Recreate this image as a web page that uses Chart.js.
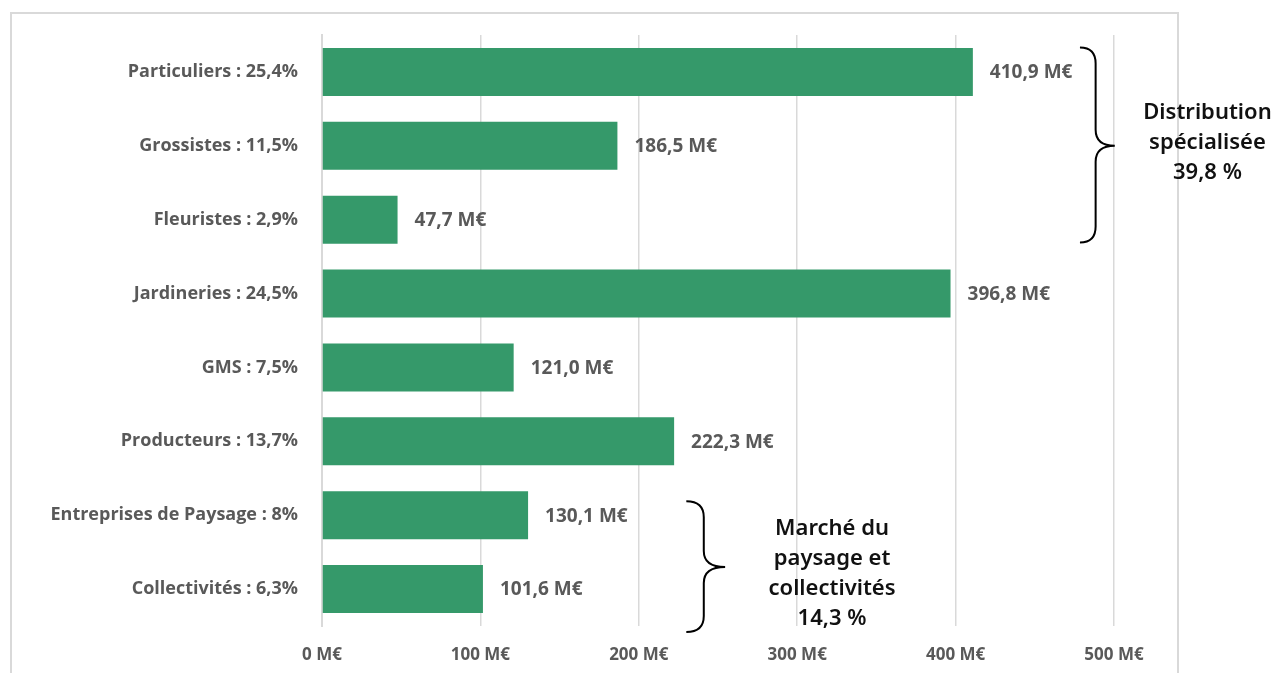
<!DOCTYPE html>
<html><head><meta charset="utf-8">
<script src="https://cdn.jsdelivr.net/npm/chart.js@4/dist/chart.umd.min.js"></script>
<style>html,body{margin:0;padding:0;background:#fff}#wrap{width:1282px;height:673px;position:relative}</style>
</head><body><div id="wrap"><canvas id="c" width="1282" height="673"></canvas></div>
<script>
const categories = ["Particuliers : 25,4%","Grossistes : 11,5%","Fleuristes : 2,9%","Jardineries : 24,5%","GMS : 7,5%","Producteurs : 13,7%","Entreprises de Paysage : 8%","Collectivités : 6,3%"];
const values = [410.9,186.5,47.7,396.8,121.0,222.3,130.1,101.6];
const valueLabels = ["410,9 M€","186,5 M€","47,7 M€","396,8 M€","121,0 M€","222,3 M€","130,1 M€","101,6 M€"];
const xTicks = [0,100,200,300,400,500];
const groupTexts = [["Distribution","spécialisée","39,8 %"],["Marché du","paysage et","collectivités","14,3 %"]];
// brace spans in category-index units, x in data units
const braceFrom = [-0.33, 5.81];
const braceTo = [2.31, 7.58];
const braceTip = [1.0, 6.7];
const braceX = [478.5, 230];
const braceTipX = [500.5, 254.5];
const textX = [559, 322];
const textY = [0.965, 6.79];

const gray = '#595959';
const frame = {
  id:'frame',
  beforeDraw(chart){
    const ctx = chart.ctx;
    ctx.save();
    ctx.fillStyle='#fff';ctx.fillRect(0,0,chart.width,chart.height);
    ctx.strokeStyle='#d9d9d9';ctx.lineWidth=2;
    ctx.strokeRect(11,13,1167,700);
    ctx.restore();
  },
  afterDatasetsDraw(chart){
    const ctx = chart.ctx, xs = chart.scales.x, ys = chart.scales.y;
    ctx.save();
    ctx.font = 'bold 19px "Open Sans"';
    ctx.fillStyle = gray; ctx.textBaseline='middle'; ctx.textAlign='left';
    values.forEach((v,i)=>{
      ctx.fillText(valueLabels[i], xs.getPixelForValue(v)+17, ys.getPixelForValue(i)+1);
    });
    const step = ys.getPixelForValue(1)-ys.getPixelForValue(0);
    const yAt = f => ys.getPixelForValue(0) + f*step;
    ctx.strokeStyle='#000'; ctx.lineWidth=2;
    for(let k=0;k<2;k++){
      const x0 = xs.getPixelForValue(braceX[k]), xt = xs.getPixelForValue(braceTipX[k]);
      const y0 = yAt(braceFrom[k]), y1 = yAt(braceTo[k]), ym = yAt(braceTip[k]);
      const xm = x0 + (xt-x0)*0.45, r = 16;
      ctx.beginPath();
      ctx.moveTo(x0,y0);
      ctx.quadraticCurveTo(xm,y0,xm,y0+r);
      ctx.lineTo(xm,ym-r);
      ctx.quadraticCurveTo(xm,ym,xt,ym);
      ctx.quadraticCurveTo(xm,ym,xm,ym+r);
      ctx.lineTo(xm,y1-r);
      ctx.quadraticCurveTo(xm,y1,x0,y1);
      ctx.stroke();
      const lines = groupTexts[k];
      const cx = xs.getPixelForValue(textX[k]);
      ctx.fillStyle='#111'; ctx.textAlign='center';
      ctx.font='600 22px "Noto Sans"';
      const lh = 30, startY = yAt(textY[k]) - (lines.length-1)*lh/2;
      lines.forEach((t,j)=>ctx.fillText(t,cx,startY+j*lh));
    }
    ctx.restore();
  }
};

new Chart(document.getElementById('c'),{
  type:'bar',
  data:{labels:categories,datasets:[{data:values,backgroundColor:'#35996a',borderWidth:0,categoryPercentage:1,barPercentage:0.65}]},
  options:{
    indexAxis:'y',responsive:false,animation:false,
    layout:{padding:{left:0,right:168,top:35,bottom:0}},
    plugins:{legend:{display:false},tooltip:{enabled:false}},
    scales:{
      x:{min:0,max:500,
        afterBuildTicks(s){s.ticks = xTicks.map(v=>({value:v}));},
        grid:{color:'#d9d9d9',lineWidth:1.5,drawTicks:false},border:{display:false},
        afterFit(s){s.height = 47;},
        ticks:{padding:19,color:gray,font:{family:'"Open Sans"',size:17,weight:'bold'},callback:v=>v+' M€'}},
      y:{grid:{display:false,drawTicks:false},border:{display:true,color:'#d9d9d9',width:2},
        afterFit(s){s.width = 322;},
        ticks:{padding:24,color:gray,font:{family:'"Open Sans"',size:18,weight:'bold'}}}
    }
  },
  plugins:[frame]
});
</script></body></html>
